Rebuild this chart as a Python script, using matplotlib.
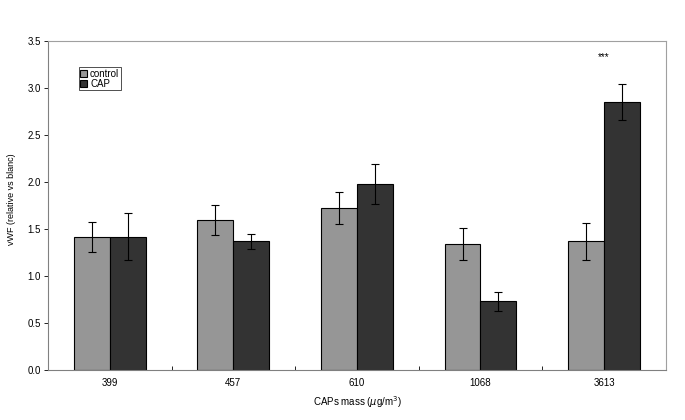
import matplotlib.pyplot as plt
import numpy as np

plt.rcParams['font.family'] = ['Liberation Sans', 'DejaVu Sans']

# CAPs mass groups and vWF values
masses = ["399", "457", "610", "1068", "3613"]
control = [1.42, 1.60, 1.72, 1.34, 1.37]
control_err = [0.16, 0.16, 0.17, 0.17, 0.20]
cap = [1.42, 1.37, 1.98, 0.73, 2.85]
cap_err = [0.25, 0.08, 0.21, 0.10, 0.19]

fig = plt.figure(figsize=(6.85, 4.2), dpi=100)
ax = fig.add_axes([0.070, 0.119, 0.902, 0.783])

x = np.arange(len(masses))
w = 0.29
errkw = dict(ecolor="black", elinewidth=0.8, capsize=3, capthick=0.8)
ax.bar(x - w / 2, control, w, yerr=control_err, color="#969696",
       edgecolor="black", linewidth=0.8, label="control", error_kw=errkw)
ax.bar(x + w / 2, cap, w, yerr=cap_err, color="#333333",
       edgecolor="black", linewidth=0.8, label="CAP", error_kw=errkw)

# significance mark above the 3613 group
ax.text(x[4], 3.33, "***", ha="center", va="center", fontsize=7)

ax.set_xlim(-0.5, len(masses) - 0.5)
ax.set_ylim(0, 3.5)
ax.set_yticks(np.arange(0, 3.51, 0.5))
ax.set_yticklabels([f"{v:.1f}" for v in np.arange(0, 3.51, 0.5)], fontsize=7)
ax.set_xticks(x)
ax.set_xticklabels(masses, fontsize=7)
ax.tick_params(axis="x", length=0, pad=6)
ax.set_xticks(np.arange(0.5, len(masses) - 0.5), minor=True)
ax.tick_params(axis="x", which="minor", direction="in", length=3, width=0.6)
ax.tick_params(axis="y", direction="out", length=3, width=0.6, pad=2)

for s in ["top", "right"]:
    ax.spines[s].set_color("#a0a0a0")
    ax.spines[s].set_linewidth(0.8)
for s in ["left", "bottom"]:
    ax.spines[s].set_color("#808080")
    ax.spines[s].set_linewidth(0.8)

ax.set_xlabel("CAPs mass ($\\mu$g/m$^3$)", fontsize=7, labelpad=4)
ax.set_ylabel("vWF (relative vs blanc)", fontsize=6.5, labelpad=6)
ax.yaxis.set_label_coords(-0.052, 0.52)

leg = ax.legend(loc="upper left", bbox_to_anchor=(0.05, 0.92), fontsize=7,
                frameon=True, fancybox=False, handlelength=0.7, handleheight=0.7,
                handletextpad=0.3, borderpad=0.15, labelspacing=0.0,
                borderaxespad=0)
leg.get_frame().set_edgecolor("black")
leg.get_frame().set_linewidth(0.6)

fig.savefig("out.png", dpi=100)
